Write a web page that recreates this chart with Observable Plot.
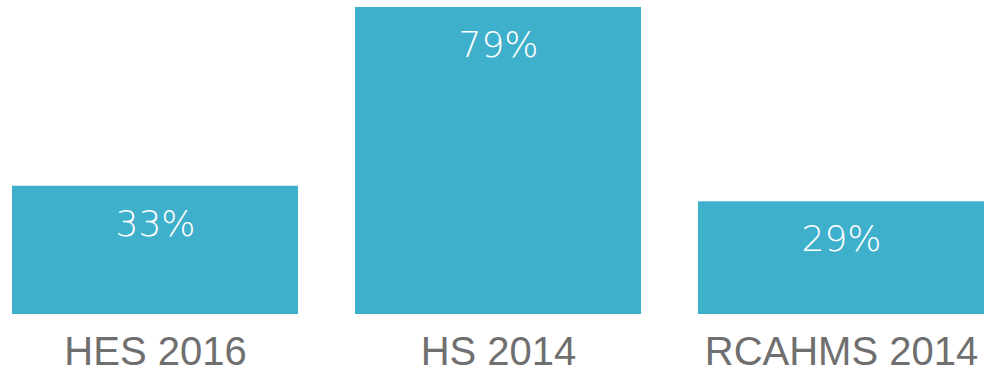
<!DOCTYPE html>
<html>
<head>
<meta charset="utf-8">
<script src="https://cdn.jsdelivr.net/npm/d3@7"></script>
<script src="https://cdn.jsdelivr.net/npm/@observablehq/plot@0.6"></script>
<style>
  html, body { margin: 0; padding: 0; background: #fff; }
</style>
</head>
<body>
<div id="chart"></div>
<script>
const categories = ["HES 2016", "HS 2014", "RCAHMS 2014"];
const values = [33, 79, 29];
const labels = ["33%", "79%", "29%"];

const data = categories.map((c, i) => ({cat: c, value: values[i], label: labels[i]}));

const chart = Plot.plot({
  width: 989,
  height: 375,
  marginLeft: 11,
  marginRight: 5,
  marginTop: 7,
  marginBottom: 61,
  x: {domain: categories, paddingInner: 0.167, paddingOuter: 0, label: null},
  y: {domain: [0, 79], axis: null},
  marks: [
    Plot.barY(data, {x: "cat", y: "value", fill: "#3fb0cb"}),
    Plot.text(data, {x: "cat", y: "value", text: "label", dy: 38, fill: "white", fontSize: 36, fontFamily: "DejaVu Sans", fontWeight: 300}),
    Plot.axisX({tickSize: 0, tickPadding: 22, fontSize: 40, fontFamily: "Liberation Sans, Arial, sans-serif", fill: "#6f6f6f", label: null})
  ]
});
document.getElementById("chart").appendChild(chart);
</script>
</body>
</html>
